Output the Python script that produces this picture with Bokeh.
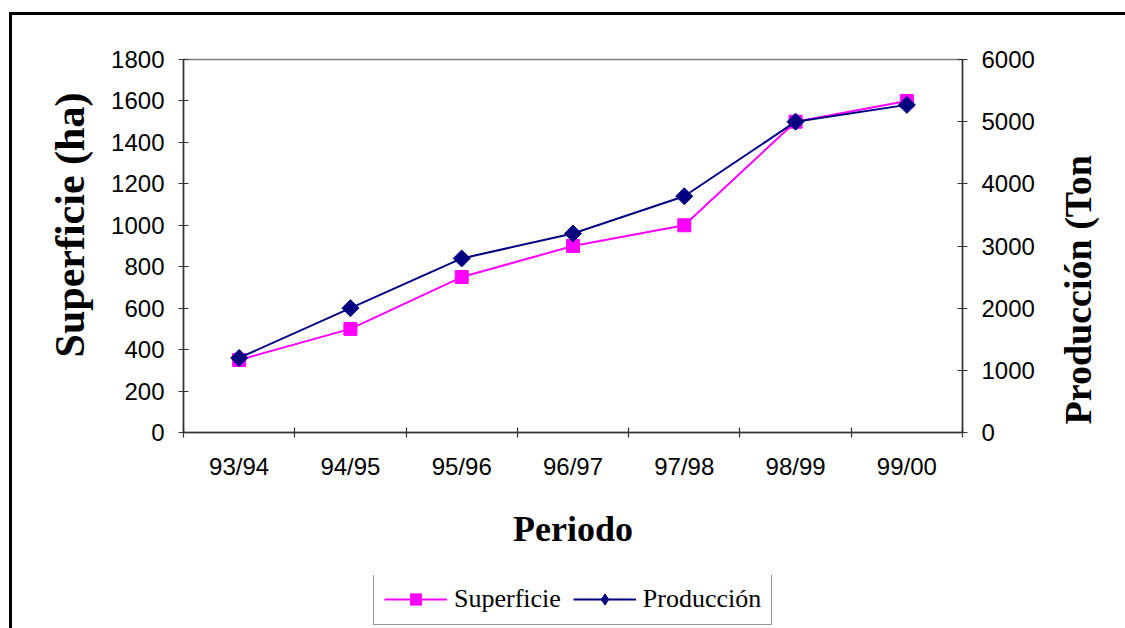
from math import pi
from bokeh.plotting import figure
from bokeh.layouts import column
from bokeh.models import (Range1d, LinearAxis, FixedTicker, Legend, LegendItem)
from bokeh.embed import file_html
from bokeh.resources import INLINE

categories = ["93/94", "94/95", "95/96", "96/97", "97/98", "98/99", "99/00"]
superficie = [350, 500, 750, 900, 1000, 1500, 1600]
produccion = [1200, 2000, 2800, 3200, 3800, 5000, 5270]
superficie_ticks = [0, 200, 400, 600, 800, 1000, 1200, 1400, 1600, 1800]
produccion_ticks = [0, 1000, 2000, 3000, 4000, 5000, 6000]

n = len(categories)
x_pos = [i + 0.5 for i in range(n)]
boundaries = [float(i) for i in range(n + 1)]

MAGENTA = "#FF00FF"
NAVY = "#000080"
AXIS_COLOR = "#333333"
SANS = "Liberation Sans"
SERIF = "Liberation Serif"
NBSP = "\u00a0"

W = 1125
H_MAIN = 575
H_LEG = 53

p = figure(width=W, height=H_MAIN, output_backend="svg", toolbar_location=None,
           x_range=Range1d(0, n), y_range=Range1d(0, superficie_ticks[-1]),
           x_axis_type=None, y_axis_type=None,
           min_border_left=183, min_border_right=163,
           min_border_top=59, min_border_bottom=143)
p.extra_y_ranges = {"prod": Range1d(0, produccion_ticks[-1])}
p.xgrid.visible = False
p.ygrid.visible = False
p.background_fill_color = None
p.border_fill_color = None
p.outline_line_color = "#808080"
p.outline_line_width = 1.5
# outer chart border (cropped at the right and bottom edges)
p.styles = {
    "background-color": "white",
    "background-image": "linear-gradient(#000,#000), linear-gradient(#000,#000)",
    "background-repeat": "no-repeat",
    "background-position": "9px 12px, 9px 12px",
    "background-size": "1200px 3px, 3px 700px",
}


def style_axis(ax):
    ax.axis_line_color = AXIS_COLOR
    ax.axis_line_width = 1.5
    ax.major_tick_line_color = AXIS_COLOR
    ax.major_tick_line_width = 1.2
    ax.major_label_text_font = SANS
    ax.major_label_text_font_size = "24px"
    ax.major_label_text_color = "black"
    ax.axis_label_text_font = SERIF
    ax.axis_label_text_font_style = "bold"
    ax.axis_label_text_color = "black"


# bottom axis: labels at category centres, tick marks at category boundaries
xaxis = LinearAxis(ticker=FixedTicker(ticks=x_pos, minor_ticks=boundaries),
                   major_label_overrides={x: c for x, c in zip(x_pos, categories)})
style_axis(xaxis)
xaxis.major_tick_in = 0
xaxis.major_tick_out = 0
xaxis.minor_tick_in = 5
xaxis.minor_tick_out = 5
xaxis.minor_tick_line_color = AXIS_COLOR
xaxis.minor_tick_line_width = 1.2
xaxis.major_label_standoff = 15
xaxis.axis_label = "Periodo"
xaxis.axis_label_text_font_size = "36px"
xaxis.axis_label_standoff = 26
p.add_layout(xaxis, "below")

yaxis = LinearAxis(ticker=FixedTicker(ticks=superficie_ticks))
style_axis(yaxis)
yaxis.major_tick_in = 5
yaxis.major_tick_out = 5
yaxis.minor_tick_line_color = None
yaxis.major_label_standoff = 14
yaxis.axis_label = NBSP * 4 + "Superficie (ha)"
yaxis.axis_label_text_font_size = "42px"
yaxis.axis_label_standoff = 15
p.add_layout(yaxis, "left")

yaxis2 = LinearAxis(y_range_name="prod", ticker=FixedTicker(ticks=produccion_ticks))
style_axis(yaxis2)
yaxis2.major_tick_in = 5
yaxis2.major_tick_out = 5
yaxis2.minor_tick_line_color = None
yaxis2.major_label_standoff = 14
p.add_layout(yaxis2, "right")

# right-hand title, drawn as the single tick label of a bare axis so that it
# reads bottom-to-top and starts where the reference has it
PROD_TITLE = "Producción (Ton"
prod_title_at = 130
title_axis = LinearAxis(y_range_name="prod",
                        ticker=FixedTicker(ticks=[prod_title_at]),
                        major_label_overrides={prod_title_at: PROD_TITLE})
title_axis.axis_line_color = None
title_axis.major_tick_line_color = None
title_axis.minor_tick_line_color = None
title_axis.major_tick_in = 0
title_axis.major_tick_out = 0
title_axis.major_label_orientation = pi / 2
title_axis.major_label_standoff = 41
title_axis.major_label_text_font = SERIF
title_axis.major_label_text_font_style = "bold"
title_axis.major_label_text_font_size = "38px"
title_axis.major_label_text_color = "black"
p.add_layout(title_axis, "right")

# series
p.line(x_pos, superficie, line_color=MAGENTA, line_width=2)
p.scatter(x_pos, superficie, marker="square", size=13,
          fill_color=MAGENTA, line_color=MAGENTA)
p.line(x_pos, produccion, line_color=NAVY, line_width=2, y_range_name="prod")
p.scatter(x_pos, produccion, marker="square", angle=pi / 4, size=12,
          fill_color=NAVY, line_color=NAVY, y_range_name="prod")

# legend strip (separate figure so that the legend is not clipped);
# its renderers hold the same series but lie outside this strip's view
pl = figure(width=W, height=H_LEG, output_backend="svg", toolbar_location=None,
            x_range=Range1d(0, 1), y_range=Range1d(-1, 0),
            x_axis_type=None, y_axis_type=None,
            min_border_left=0, min_border_right=0,
            min_border_top=0, min_border_bottom=0)
pl.xgrid.visible = False
pl.ygrid.visible = False
pl.outline_line_color = None
pl.background_fill_color = None
pl.border_fill_color = None
pl.styles = {
    "background-color": "white",
    "background-image": "linear-gradient(#000,#000)",
    "background-repeat": "no-repeat",
    "background-position": "9px 0px",
    "background-size": "3px 100px",
}
l1 = pl.line(x_pos, superficie, line_color=MAGENTA, line_width=2)
m1 = pl.scatter(x_pos, superficie, marker="square", size=13,
                fill_color=MAGENTA, line_color=MAGENTA)
l2 = pl.line(x_pos, produccion, line_color=NAVY, line_width=2)
m2 = pl.scatter(x_pos, produccion, marker="diamond", size=17,
                fill_color=NAVY, line_color=NAVY)

legend = Legend(items=[LegendItem(label="Superficie", renderers=[l1, m1]),
                       LegendItem(label="Producción", renderers=[l2, m2])],
                location=(190, 3), orientation="horizontal",
                label_text_font=SERIF, label_text_font_size="26px",
                label_text_color="black",
                border_line_color=AXIS_COLOR, border_line_width=1,
                background_fill_color="white", background_fill_alpha=1,
                padding=10, spacing=12, label_standoff=7,
                glyph_width=63, glyph_height=28, margin=0)
pl.add_layout(legend)

layout = column(p, pl, spacing=0)
open("out.html", "w").write(file_html(layout, INLINE))
